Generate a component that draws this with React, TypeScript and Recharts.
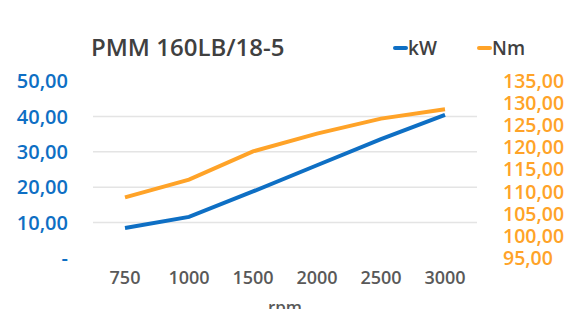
import React from 'react';
import { LineChart, Line, XAxis, YAxis, ReferenceLine } from 'recharts';

const rpm = ['750', '1000', '1500', '2000', '2500', '3000'];
const kW = [8.5, 11.6, 18.8, 26.2, 33.6, 40.4];
const Nm = [108.7, 112.7, 119.1, 123.1, 126.5, 128.6];
const leftTicks = [0, 10, 20, 30, 40, 50];
const rightTicks = [95, 100, 105, 110, 115, 120, 125, 130, 135];
const gridValues = [10, 20, 30, 40];
const title = 'PMM 160LB/18-5';
const seriesNames = ['kW', 'Nm'];

const data = rpm.map((r, i) => ({ rpm: r, kW: kW[i], Nm: Nm[i] }));

const BLUE = '#0E6FC4';
const ORANGE = '#FFA328';
const FONT = '"Open Sans", sans-serif';

const fmt = (v: number) => (v === 0 ? '-' : v.toFixed(2).replace('.', ','));

export default function App() {
  return (
    <div style={{ position: 'absolute', left: 0, top: 0, width: 574, height: 309, background: '#fff', overflow: 'hidden' }}>
      <div style={{ position: 'absolute', left: 91, top: 30, fontFamily: FONT, fontSize: 24, fontWeight: 600, color: '#404040', lineHeight: '34px', whiteSpace: 'nowrap' }}>
        {title}
      </div>
      <div style={{ position: 'absolute', left: 0, top: 33, width: 574, height: 30, fontFamily: FONT, fontSize: 19, fontWeight: 600, color: '#404040' }}>
        <div style={{ position: 'absolute', left: 393, top: 13, width: 15, height: 4, background: BLUE, borderRadius: 2 }} />
        <div style={{ position: 'absolute', left: 408, top: 0, lineHeight: '30px' }}>{seriesNames[0]}</div>
        <div style={{ position: 'absolute', left: 477, top: 13, width: 15, height: 4, background: ORANGE, borderRadius: 2 }} />
        <div style={{ position: 'absolute', left: 492, top: 0, lineHeight: '30px' }}>{seriesNames[1]}</div>
      </div>
      <div style={{ position: 'absolute', left: 0, top: 0 }}>
        <LineChart width={574} height={309} data={data} margin={{ top: 81, right: 0, bottom: 0, left: 0 }}>
          <XAxis
            dataKey="rpm"
            scale="band"
            axisLine={false}
            tickLine={false}
            tickSize={0}
            tickMargin={13}
            height={51}
            interval={0}
            tick={{ fill: '#595959', fontSize: 18, fontWeight: 600, fontFamily: FONT }}
            label={{ value: 'rpm', position: 'insideBottom', offset: -4, fill: '#595959', fontSize: 17, fontWeight: 600, fontFamily: FONT }}
          />
          <YAxis
            yAxisId="left"
            orientation="left"
            domain={[0, 50]}
            ticks={leftTicks}
            interval={0}
            width={93}
            axisLine={false}
            tickLine={false}
            tickSize={0}
            tickMargin={25}
            tickFormatter={fmt}
            tick={{ fill: BLUE, fontSize: 20, fontWeight: 600, fontFamily: FONT }}
          />
          <YAxis
            yAxisId="right"
            orientation="right"
            domain={[95, 135]}
            ticks={rightTicks}
            interval={0}
            width={97}
            axisLine={false}
            tickLine={false}
            tickSize={0}
            tickMargin={26}
            tickFormatter={fmt}
            tick={{ fill: ORANGE, fontSize: 19.5, fontWeight: 600, fontFamily: FONT }}
          />
          {gridValues.map((g) => (
            <ReferenceLine key={g} yAxisId="left" y={g} stroke="#e4e4e4" strokeWidth={1.5} />
          ))}
          <Line yAxisId="left" type="linear" dataKey="kW" stroke={BLUE} strokeWidth={4} dot={false} isAnimationActive={false} />
          <Line yAxisId="right" type="linear" dataKey="Nm" stroke={ORANGE} strokeWidth={4} dot={false} isAnimationActive={false} />
        </LineChart>
      </div>
    </div>
  );
}
